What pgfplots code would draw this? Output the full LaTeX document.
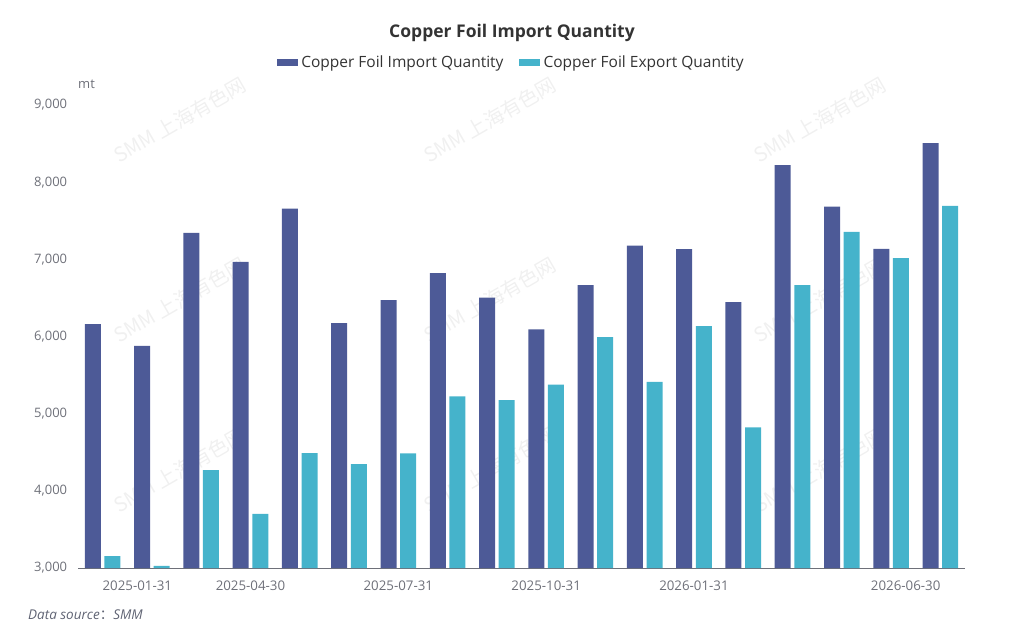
\documentclass[border=0pt]{standalone}
\usepackage{fontspec}
\setmainfont{Open Sans}
\newfontfamily\cjk{Noto Sans CJK SC}
\usepackage{pgfplots}
\pgfplotsset{compat=1.18}
\definecolor{imp}{RGB}{77,90,151}
\definecolor{expc}{RGB}{69,179,203}
\definecolor{axisgray}{RGB}{110,112,121}
\definecolor{titlecol}{RGB}{51,51,51}
\definecolor{srccol}{RGB}{95,99,115}
\definecolor{wm}{RGB}{240,240,240}
\begin{document}
\begin{tikzpicture}[x=1pt,y=1pt]
\path[use as bounding box] (0,0) rectangle (1024,643);
% watermarks
\foreach \wx in {180,490,820}{
  \foreach \wy in {523,343,173}{
    \node[rotate=30,text=wm,font=\cjk\fontsize{20}{24}\selectfont] at (\wx,\wy) {SMM 上海有色网};
  }
}
\begin{axis}[
  at={(78pt,75pt)}, anchor=south west,
  scale only axis, width=887pt, height=463pt,
  xmin=-0.5, xmax=17.5, ymin=3000, ymax=9000,
  axis x line=bottom, axis y line=left,
  axis line style={-},
  x axis line style={draw=axisgray, line width=1pt},
  y axis line style={draw=none},
  tick style={draw=none},
  ytick={3000,4000,5000,6000,7000,8000,9000},
  yticklabel style={anchor=east, inner sep=0pt, xshift=-8.5pt, text=axisgray, font=\fontsize{13}{15}\selectfont},
  /pgf/number format/.cd, 1000 sep={,}, assume math mode=true, /pgfplots/.cd,
  xtick={0,3,6,9,12,17},
  xticklabels={\makebox[0pt][l]{2025-01-31},2025-04-30,2025-07-31,2025-10-31,2026-01-31,\makebox[0pt][r]{2026-06-30}},
  xticklabel style={anchor=north, inner sep=0pt, yshift=-10.5pt, text=axisgray, font=\fontsize{13.3}{15}\selectfont},
  legend columns=2,
  legend style={at={(0.4893,1)}, anchor=center, yshift=43pt, draw=none, fill=none,
    font=\fontsize{15.5}{18}\selectfont, text=titlecol,
    /tikz/every even column/.append style={column sep=12pt},
    nodes={inner sep=3.5pt}},
  clip=true,
]
\addplot[ybar, bar width=16pt, bar shift=-9.8pt, fill=imp, draw=none,
  legend image code/.code={\fill[imp] (0pt,-3.5pt) rectangle (21pt,3.5pt);}]
  coordinates {(0,6161) (1,5880) (2,7343) (3,6968) (4,7658) (5,6174) (6,6472) (7,6821) (8,6505)
   (9,6091) (10,6666) (11,7179) (12,7132) (13,6446) (14,8220) (15,7684) (16,7136) (17,8505)};
\addlegendentry{Copper Foil Import Quantity}
\addplot[ybar, bar width=16pt, bar shift=9.8pt, fill=expc, draw=none,
  legend image code/.code={\fill[expc] (0pt,-3.5pt) rectangle (21pt,3.5pt);}]
  coordinates {(0,3155) (1,3026) (2,4269) (3,3700) (4,4490) (5,4347) (6,4485) (7,5223) (8,5176)
   (9,5378) (10,5992) (11,5413) (12,6135) (13,4821) (14,6666) (15,7356) (16,7016) (17,7693)};
\addlegendentry{Copper Foil Export Quantity}
\end{axis}
\node[font=\bfseries\fontsize{17.5}{20}\selectfont, text=titlecol] at (512,610) {Copper Foil Import Quantity};
\node[font=\fontsize{13}{15}\selectfont, text=axisgray, anchor=west, inner sep=0pt] at (78,559) {mt};
\node[font=\itshape\fontsize{13.5}{15}\selectfont, text=srccol, anchor=west, inner sep=0pt] at (28,28) {Data source{\cjk ：}SMM};
\end{tikzpicture}
\end{document}
